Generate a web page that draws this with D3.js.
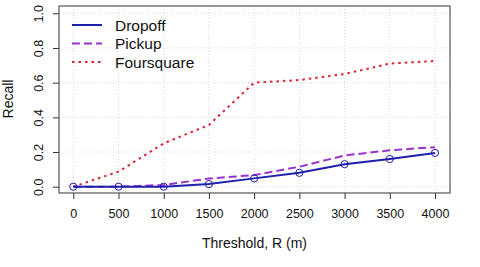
<!DOCTYPE html>
<html><head><meta charset="utf-8">
<script src="https://cdn.jsdelivr.net/npm/d3@7"></script>
<style>body{margin:0;background:#fff}svg{display:block}text{font-family:"Liberation Sans",Arial,sans-serif;fill:#111}</style>
</head><body><svg id="c" width="480" height="267"></svg>
<script>
const thresholds = [0,500,1000,1500,2000,2500,3000,3500,4000];
const dropoff = [0,0,0,0.015,0.048,0.08,0.13,0.16,0.195];
const pickup = [0,0,0.01,0.047,0.067,0.115,0.18,0.21,0.228];
const foursquare = [0,0.087,0.25,0.356,0.60,0.615,0.65,0.71,0.725];
const yTicks = [0,0.2,0.4,0.6,0.8,1.0];
const seriesNames = ["Dropoff","Pickup","Foursquare"];

const svg = d3.select("#c");
const box = {l:59, r:450, t:6, b:193};
const x = d3.scaleLinear().domain([0,4000]).range([73.3,435]);
const y = d3.scaleLinear().domain([0,1]).range([186.7,13.3]);

// grid
const g = svg.append("g");
g.selectAll(".gx").data(thresholds).enter().append("line")
 .attr("x1",d=>x(d)).attr("x2",d=>x(d)).attr("y1",box.t).attr("y2",box.b)
 .attr("stroke","#d8d8d8").attr("stroke-dasharray","1,2").attr("stroke-width",1);
g.selectAll(".gy").data(yTicks).enter().append("line")
 .attr("y1",d=>y(d)).attr("y2",d=>y(d)).attr("x1",box.l).attr("x2",box.r)
 .attr("stroke","#d8d8d8").attr("stroke-dasharray","1,2").attr("stroke-width",1);

// axes
const xa = svg.append("g").attr("transform",`translate(0,${box.b})`)
 .call(d3.axisBottom(x).tickValues(thresholds).tickFormat(d3.format("d")).tickSize(6).tickPadding(10));
const ya = svg.append("g").attr("transform",`translate(${box.l},0)`)
 .call(d3.axisLeft(y).tickValues(yTicks).tickFormat(d3.format(".1f")).tickSize(6).tickPadding(5));
[xa,ya].forEach(a=>{a.select(".domain").remove();a.selectAll("line").attr("stroke","#333");a.selectAll("text").style("font-size","12.5px").style("font-family","Liberation Sans, Arial, sans-serif").attr("fill","#111");});
ya.selectAll(".tick text").attr("text-anchor","middle").attr("dy","0")
 .attr("transform","translate(-20,0) rotate(-90)").attr("x",0).attr("y",4);

svg.append("rect").attr("x",box.l).attr("y",box.t).attr("width",box.r-box.l).attr("height",box.b-box.t)
 .attr("fill","none").attr("stroke","#555").attr("stroke-width",1.2);

svg.append("text").attr("x",254.5).attr("y",248).attr("text-anchor","middle").style("font-size","14px").text("Threshold, R (m)");
svg.append("text").attr("transform","translate(13,99) rotate(-90)").attr("text-anchor","middle").style("font-size","14px").text("Recall");

const styles = [
 {color:"#1f1fae", dash:null, data:dropoff},
 {color:"#9933cc", dash:"8,4", data:pickup},
 {color:"#dd2233", dash:"2.5,4", data:foursquare}
];
const line = d3.line().x((d,i)=>x(thresholds[i])).y(d=>y(d));
[2,1,0].forEach(k=>{
  const s = styles[k];
  svg.append("path").datum(s.data).attr("d",line).attr("fill","none")
   .attr("stroke",s.color).attr("stroke-width",2).attr("stroke-dasharray",s.dash);
});
svg.selectAll(".pt").data(dropoff).enter().append("circle")
 .attr("cx",(d,i)=>x(thresholds[i])).attr("cy",d=>y(d)).attr("r",3.6)
 .attr("fill","none").attr("stroke",styles[0].color).attr("stroke-width",1);

// legend
const lg = svg.append("g");
seriesNames.forEach((n,i)=>{
  const yy = 25 + i*18.5;
  lg.append("line").attr("x1",72).attr("x2",102).attr("y1",yy).attr("y2",yy)
   .attr("stroke",styles[i].color).attr("stroke-width",2).attr("stroke-dasharray",styles[i].dash);
  lg.append("text").attr("x",115).attr("y",yy+5.5).style("font-size","15.5px").text(n);
});
</script></body></html>
